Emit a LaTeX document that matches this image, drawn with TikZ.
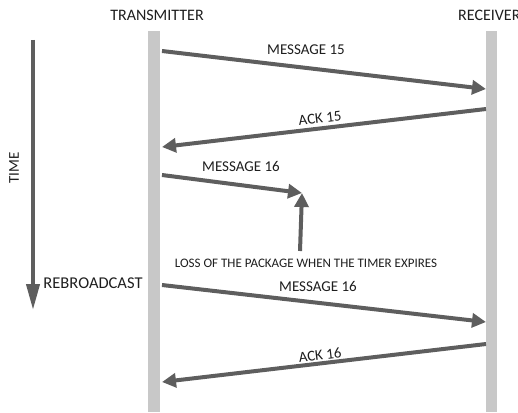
\documentclass[tikz,border=0pt]{standalone}
\usepackage{fontspec}
\setmainfont{Carlito}
\usetikzlibrary{arrows.meta}
\definecolor{barcol}{HTML}{C8C8C8}
\definecolor{arrcol}{HTML}{5E5E5E}
\definecolor{txtcol}{HTML}{1E1E1E}
\tikzset{
  lifeline/.style={fill=barcol, draw=none},
  msg/.style={draw=arrcol, line width=4pt, -{Triangle[length=14pt,width=14pt]}},
  lbl/.style={text=txtcol, font=\fontsize{15}{17}\selectfont, inner sep=0pt},
  small/.style={text=txtcol, font=\fontsize{13}{15}\selectfont, inner sep=0pt},
}
\begin{document}
\begin{tikzpicture}[x=1pt,y=-1pt]
\useasboundingbox (0,0) rectangle (518,412);
\clip (0,0) rectangle (518,412);
% lifelines
\fill[lifeline] (148,31) rectangle (160,412);
\fill[lifeline] (486,31) rectangle (497,412);
\node[lbl, font=\fontsize{16}{18}\selectfont] (tx) at (157,15) {TRANSMITTER};
\node[lbl, font=\fontsize{16}{18}\selectfont, anchor=west] (rx) at (458,15) {RECEIVER};
% time axis
\coordinate (t0) at (33,40);
\coordinate (t1) at (33,310);
\draw[draw=arrcol, line width=4pt, -{Triangle[length=26pt,width=13pt]}] (t0) -- (t1);
\node[lbl, rotate=90] (time) at (14,168) {TIME};
% message endpoints
\coordinate (a1) at (162,51);  \coordinate (b1) at (486,89);
\coordinate (b2) at (486,109); \coordinate (a2) at (162,147);
\coordinate (a3) at (162,175); \coordinate (lost) at (302,193);
\coordinate (src) at (300,251);
\coordinate (a4) at (162,285); \coordinate (b4) at (486,322);
\coordinate (b5) at (486,344); \coordinate (a5) at (162,382);
\draw[msg] (a1) -- (b1);
\draw[msg] (b2) -- (a2);
\draw[msg] (a3) -- (lost);
\draw[msg] (src) -- (lost);
\draw[msg] (a4) -- (b4);
\draw[msg] (b5) -- (a5);
% labels
\node[lbl] (m15) at (306,50) {MESSAGE 15};
\node[lbl, rotate=6.8] (k15) at (320,118) {ACK 15};
\node[lbl] (m16) at (241,166) {MESSAGE 16};
\node[small] (loss) at (306,263) {LOSS OF THE PACKAGE WHEN THE TIMER EXPIRES};
\node[lbl, font=\fontsize{16.5}{18}\selectfont] (rb) at (93,283) {REBROADCAST};
\node[lbl] (m16b) at (318,286) {MESSAGE 16};
\node[lbl, rotate=6.8] (k16) at (320,355) {ACK 16};
\end{tikzpicture}
\end{document}
